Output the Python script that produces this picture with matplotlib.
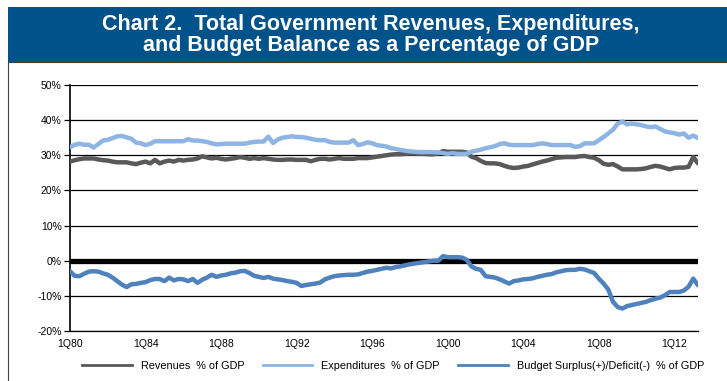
import matplotlib.pyplot as plt
from matplotlib.patches import Rectangle
from matplotlib.lines import Line2D

plt.rcParams['font.family'] = ['Liberation Sans', 'DejaVu Sans']

# quarterly values, 1Q80 .. 2Q13 (% of GDP)
revenues = [
    28.2, 28.6, 28.9, 29.1,  29.1, 29.1, 28.8, 28.6,  28.5, 28.2, 28.0, 28.0,
    28.0, 27.7, 27.5, 27.9,  28.2, 27.7, 28.7, 27.7,  28.2, 28.5, 28.2, 28.7,
    28.5, 28.7, 28.8, 29.1,  29.7, 29.4, 29.1, 29.3,  29.0, 28.8, 29.0, 29.2,
    29.5, 29.3, 29.0, 29.2,  29.0, 29.2, 29.0, 28.8,  28.7, 28.7, 28.8, 28.8,
    28.7, 28.7, 28.7, 28.3,  28.7, 29.0, 29.0, 28.8,  29.0, 29.2, 29.0, 29.0,
    29.0, 29.2, 29.2, 29.2,  29.4, 29.6, 29.8, 30.0,  30.2, 30.3, 30.3, 30.4,
    30.5, 30.5, 30.4, 30.4,  30.3, 30.3, 30.5, 31.2,  31.0, 31.0, 31.0, 31.0,
    30.8, 29.6, 29.2, 28.4,  27.8, 27.7, 27.7, 27.5,  27.0, 26.6, 26.4, 26.5,
    26.8, 27.0, 27.4, 27.8,  28.2, 28.5, 28.9, 29.3,  29.4, 29.5, 29.5, 29.5,
    29.7, 29.8, 29.5, 29.3,  28.6, 27.6, 27.3, 27.5,  26.8, 26.0, 26.0, 26.0,
    26.0, 26.1, 26.3, 26.7,  27.0, 26.8, 26.4, 26.0,  26.4, 26.5, 26.5, 26.7,
    29.5, 27.7,
]
expenditures = [
    32.3, 33.0, 33.3, 33.0,  33.0, 32.2, 33.2, 34.2,  34.4, 34.9, 35.4, 35.5,
    35.1, 34.7, 33.6, 33.4,  32.9, 33.3, 34.0, 34.0,  34.0, 34.0, 34.0, 34.0,
    34.0, 34.6, 34.2, 34.2,  34.0, 33.8, 33.4, 33.1,  33.2, 33.3, 33.3, 33.3,
    33.3, 33.3, 33.6, 33.8,  33.9, 33.9, 35.3, 33.5,  34.5, 35.0, 35.2, 35.4,
    35.2, 35.2, 35.0, 34.7,  34.4, 34.3, 34.3, 33.8,  33.6, 33.6, 33.6, 33.6,
    34.3, 32.9, 33.2, 33.7,  33.4, 32.9, 32.7, 32.5,  32.0, 31.8, 31.5, 31.3,
    31.1, 31.0, 30.9, 30.9,  30.9, 30.9, 30.8, 30.6,  30.4, 30.6, 30.4, 30.4,
    30.4, 31.0, 31.3, 31.6,  32.0, 32.3, 32.6, 33.2,  33.4, 33.0, 32.9, 32.9,
    32.9, 32.9, 32.9, 33.2,  33.4, 33.2, 32.9, 32.9,  32.9, 32.9, 32.9, 32.4,
    32.6, 33.4, 33.4, 33.4,  34.3, 35.2, 36.2, 37.3,  39.0, 39.6, 38.8, 39.0,
    38.8, 38.6, 38.2, 38.0,  38.2, 37.5, 36.8, 36.5,  36.3, 35.9, 36.2, 35.0,
    35.6, 34.9,
]
balance = [
    -3.0, -4.3, -4.4, -3.7,  -3.1, -3.0, -3.1, -3.6,  -4.0, -4.8, -5.8, -6.8,
    -7.5, -6.7, -6.6, -6.3,  -6.1, -5.5, -5.2, -5.2,  -5.8, -4.8, -5.6, -5.2,
    -5.3, -5.8, -5.2, -6.3,  -5.4, -4.8, -4.0, -4.6,  -4.2, -4.0, -3.6, -3.4,
    -3.0, -2.9, -3.5, -4.3,  -4.6, -4.9, -4.6, -5.1,  -5.3, -5.5, -5.8, -6.0,
    -6.3, -7.2, -6.9, -6.7,  -6.5, -6.2, -5.3, -4.8,  -4.4, -4.2, -4.1, -4.0,
    -4.0, -3.9, -3.5, -3.1,  -2.9, -2.6, -2.3, -2.0,  -2.2, -1.8, -1.6, -1.3,
    -1.0, -0.8, -0.6, -0.4,  -0.2, 0.0, 0.0, 1.3,  1.0, 1.0, 1.0, 0.9,
    0.3, -1.6, -2.3, -2.6,  -4.4, -4.6, -4.8, -5.3,  -5.9, -6.5, -5.8, -5.6,
    -5.3, -5.2, -5.0, -4.6,  -4.3, -4.0, -3.8, -3.3,  -3.0, -2.7, -2.6, -2.6,
    -2.3, -2.5, -3.0, -3.5,  -5.1, -6.5, -8.2, -11.7,  -13.2, -13.6, -12.9, -12.6,
    -12.3, -12.0, -11.7, -11.2,  -10.8, -10.5, -9.8, -8.9,  -8.9, -8.9, -8.5, -7.4,
    -5.1, -7.0,
]
tick_labels = ["1Q80", "1Q84", "1Q88", "1Q92", "1Q96", "1Q00", "1Q04", "1Q08", "1Q12"]
y_ticks = [-20, -10, 0, 10, 20, 30, 40, 50]

c_rev = "#595959"
c_exp = "#8DB4E2"
c_bal = "#4F81BD"

W, H = 727, 381
fig = plt.figure(figsize=(W / 100, H / 100), dpi=100)

# title banner and chart frame (behind the axes)
fig.patches.append(Rectangle((8 / W, -0.01), 1, (H - 62) / H + 0.01, transform=fig.transFigure,
                             facecolor="white", edgecolor="#404040", lw=0.8, zorder=-10))
fig.patches.append(Rectangle((8 / W, (H - 62) / H), 1, 55 / H, transform=fig.transFigure,
                             facecolor="#00528A", edgecolor="none", zorder=-9))
fig.text(0.510, 1 - 35 / H, "Chart 2.  Total Government Revenues, Expenditures,\n"
         "and Budget Balance as a Percentage of GDP",
         ha="center", va="center", color="white", fontsize=15.5, fontweight="bold",
         linespacing=1.0)

ax = fig.add_axes([70 / W, 1 - 331 / H, 628 / W, 246 / H])
ax.set_facecolor("none")
x = list(range(len(revenues)))

for v in y_ticks:
    ax.axhline(v, color="black", lw=0.9, zorder=1)
ax.axhline(0, color="black", lw=3.8, zorder=2)

ax.plot(x, revenues, color=c_rev, lw=3.2, zorder=3, solid_capstyle="round")
ax.plot(x, expenditures, color=c_exp, lw=3.2, zorder=3, solid_capstyle="round")
ax.plot(x, balance, color=c_bal, lw=3.2, zorder=3, solid_capstyle="round")

ax.set_xlim(0, len(revenues) - 1)
ax.set_ylim(-20, 50)
ax.set_yticks(y_ticks)
ax.set_yticklabels([f"{v}%" for v in y_ticks])
ax.set_xticks(range(0, len(revenues), 16))
ax.set_xticklabels(tick_labels)
ax.tick_params(axis="y", length=4, width=0.9, labelsize=7.5, pad=2)
ax.tick_params(axis="x", length=0, labelsize=7.5, pad=6)
for s in ["top", "right"]:
    ax.spines[s].set_visible(False)
ax.spines["left"].set_linewidth(1.2)
ax.spines["bottom"].set_linewidth(0.9)

handles = [Line2D([], [], color=c_rev, lw=2),
           Line2D([], [], color=c_exp, lw=2),
           Line2D([], [], color=c_bal, lw=2)]
fig.legend(handles, ["Revenues  % of GDP", "Expenditures  % of GDP",
                     "Budget Surplus(+)/Deficit(-)  % of GDP"],
           loc="center", bbox_to_anchor=(393 / W, 1 - 366 / H), ncol=3, frameon=False,
           fontsize=7.8, handlelength=4.6, handletextpad=0.8, columnspacing=1.7)

fig.savefig("out.png", dpi=100)
